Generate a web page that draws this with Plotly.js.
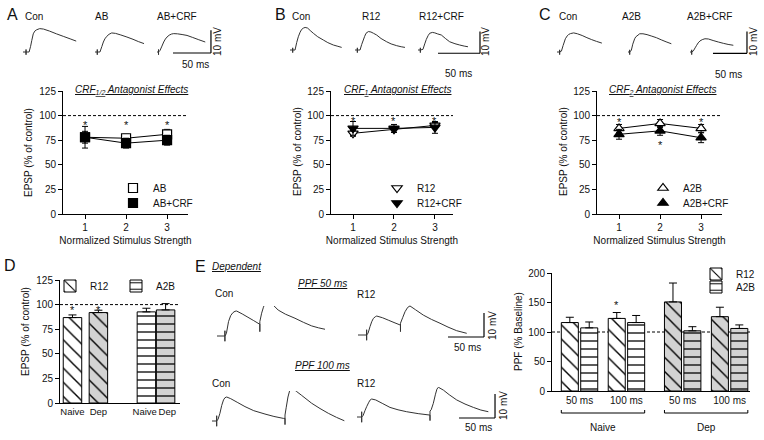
<!DOCTYPE html>
<html><head><meta charset="utf-8">
<script src="https://cdn.plot.ly/plotly-3.0.1.min.js"></script>
<style>html,body{margin:0;padding:0;background:#fff}#chart{width:764px;height:440px}</style>
</head><body><div id="chart"></div>
<script>
// ---------------- DATA ----------------
const stimStrength = [1, 2, 3];
// Panel A: CRF1/2 antagonist
const epspAB = [78, 77, 81];
const semAB = [11, 4, 5];
const epspABCRF = [78, 72, 75];
const semABCRF = [6, 5, 5];
const sigA_x = [1, 2, 3];
const sigA_y = [93, 93, 93];
// Panel B: CRF1 antagonist
const epspR12 = [82, 86, 90];
const semR12 = [3, 3, 3];
const epspR12CRF = [87, 87, 88];
const semR12CRF = [7, 4, 6];
const sigB_x = [1, 2, 3];
const sigB_y = [98, 98, 98];
// Panel C: CRF2 antagonist
const epspA2B = [87, 92, 87];
const semA2B = [4, 4, 4];
const epspA2BCRF = [81, 84.5, 77.5];
const semA2BCRF = [5, 4.5, 5];
const sigC_x = [1, 2, 3];
const sigC_y = [97, 73.5, 97];
// Panel D
const groupsD = ['Naive', 'Dep'];
const epspD_R12 = [86.8, 91.9];
const semD_R12 = [2.7, 2.4];
const epspD_A2B = [92.6, 94.6];
const semD_A2B = [3.7, 6.4];
const sigD_y = [98, 98];
// Panel E (PPF)
const ppfIntervals = ['50 ms', '100 ms', '50 ms', '100 ms'];
const ppfGroupOf = ['Naive', 'Naive', 'Dep', 'Dep'];
const ppfGroups = ['Naive', 'Dep'];
const ppfR12 = [116, 123, 151, 126];
const semPpfR12 = [9, 10, 32, 16];
const ppfA2B = [107, 116, 102, 106];
const semPpfA2B = [10, 12, 7, 6];
const sigE_idx = 1, sigE_y = 151;

// Waveforms (time ms, voltage mV relative to baseline)
const tA_con = [0,4,4,4,4,8,10,11.5,13.5,15.5,18,22,27,35,44,53,62,70];
const vA_con = [0,0,-1.2,1.1,0,0,2.5,5,8,9.2,9.8,10.3,10.1,9.2,8,6.9,5.8,4.8];
const tA_ab = [0,3,3,3,3,6.5,9,11,13,15.5,18.5,22,27,34,42,50,57,64.5];
const vA_ab = [0,0,-1.2,1.1,0,0,2.4,4.4,5.8,6.9,7.8,8.4,8.2,7.5,6.6,5.6,4.6,3.7];
const tA_abcrf = [0,2,2,2,2,4,6.5,8.8,11,13.2,16,19,22,27,33,39.5,47,55,63.5];
const vA_abcrf = [0,0,-1.2,1.1,0,0.7,2.6,4.4,5.7,6.6,7.4,7.9,8.1,8,7.7,7.3,6.4,5.4,4.4];

const tB_con = [0,3.2,3.2,3.2,3.2,6,8,9.9,12,13.9,16,18,21,24,27.8,33,39.7,45,51.6,57,61.5];
const vB_con = [0,0,-1.2,1,0,0,3.5,6.1,8.2,9.5,10.1,10.4,10.1,9,7.7,6.1,4.6,3.4,2.3,1.7,1.2];
const tB_r12 = [0,2.8,2.8,2.8,2.8,6,8,9.9,11.5,13.1,15.9,19,22,25.8,31,37.7,43,49.6,55,59.5];
const vB_r12 = [0,0,-1.2,1,0,0,2.6,4.6,6.3,7.7,8.5,8.3,7.7,6.9,5.3,3.8,2.8,2,1.5,1.2];
const tB_r12crf = [0,2.8,2.8,2.8,2.8,5.9,8,9.9,12,13.9,17.1,20,23.5,27.8,33,37.7,44,49.6,55,59.5];
const vB_r12crf = [0,0,-1.2,1,0,0.3,2.8,4.9,6.6,7.7,8.1,7.9,7.4,6.9,5.2,3.8,2.9,2.3,1.8,1.5];

const tC_con = [0,3.9,3.9,3.9,3.9,6.5,9,12.3,15,17.2,20,24.5,30,37,44,51,58,66];
const vC_con = [0,0,-1.2,1,0,0.4,3,6.1,7.4,8.1,8.5,8.8,8.4,7.6,6.6,5.7,4.9,4.1];
const tC_a2b = [0,2.5,2.5,2.5,2.5,4.9,7,9.8,11.5,13.2,17.2,22,28,35,41.7,49,56,63.7];
const vC_a2b = [0,0,-1.2,1,0,0.8,3.6,6.1,7,7.4,8.4,8.4,8,7.3,6.6,5.6,4.7,3.8];
const tC_a2bcrf = [0,2.5,2.5,2.5,2.5,4.9,7.5,9.8,12,14.7,18,22,27,34,41.7,49,56,63.7];
const vC_a2bcrf = [0,0,-1.2,1,0,0.5,1.9,3.1,4.2,5.1,5.7,6.1,6,5.3,4.6,4,3.5,3.1];

const tE_con50 = [0,11,11,11,11,13,16,19,22,25,27.3,35,43,51,58.8,59.5,59.5,59.5,62,64.5,66.7,69,71.3,78,85,95,108.3,120,131.5,141,150];
const vE_con50 = [0,0,-2.2,2.2,0,1,6,8.5,9.7,10.3,10.4,9.2,7.8,6.4,5,5,1.8,6,9.5,12,13.6,14.6,15,12.9,10.8,9.1,7.4,5.7,4.2,3.4,2.8];
const tE_r12_50 = [0,12,12,12,12,14,16.7,19,21.3,24,26,34,42,50,58.3,59,59,59,62,65.3,69,72.2,80,90.7,102,113.9,125,137,151];
const vE_r12_50 = [0,0,-2.2,2.2,0,0.8,3.5,5.5,6.9,7.6,7.9,7.2,6.2,5.2,4.2,4.2,1.4,4.9,7.2,9.7,11.5,12.1,10.5,8.3,6.5,4.9,3.3,1.8,0.7];
const tE_con100 = [0,6.5,6.5,6.5,6.5,8.5,11,13.5,16,18,20.4,26,35,45.8,58,73.6,86,99,101.4,101.4,101.4,103,105.5,108,110.7,117,124,138.4,150,161.6,173,183.8];
const vE_con100 = [0,0,-2.2,2.2,0,0.8,3.2,6.5,8.8,9.7,10,9.3,7.8,6,4.3,2.9,1.9,1.1,1.1,-1.5,2.5,5.5,10,12.8,13.9,12.4,10.8,7.4,5.2,3.2,1.5,0.1];
const tE_r12_100 = [0,6.5,6.5,6.5,6.5,8.5,11,13.4,16,18,20.4,26,35,45.8,57,69,85,101.4,101.4,101.4,101.4,103,106,109,111,113,120,128,138.5,150,161.6,172,182.4];
const vE_r12_100 = [0,0,-2.2,2.2,0,0.6,2.6,4.3,5.9,7,7.5,7.1,5.7,4,3,2.2,1.4,0.8,0.8,-1.5,2.5,3,5.7,9.5,11.6,12.4,11.2,9.3,7.1,5.4,4,2.9,2.2];

const scaleMs = 50, scaleMv = 10;

// ---------------- LAYOUT HELPERS ----------------
const W = 764, H = 440;
const FONT = 'Liberation Sans, Arial, Helvetica, sans-serif';
const px = x => x / W, py = y => 1 - y / H;
const traces = [];
const layout = {
  width: W, height: H, margin: {l: 0, r: 0, t: 0, b: 0},
  paper_bgcolor: '#fff', plot_bgcolor: 'rgba(0,0,0,0)',
  font: {family: FONT, size: 10, color: '#111'},
  showlegend: true, annotations: [], shapes: []
};
const axBase = {showline: true, linecolor: '#000', linewidth: 1, ticks: 'outside', ticklen: 4,
  tickwidth: 1, tickcolor: '#000', showgrid: false, zeroline: false, fixedrange: true, tickangle: 0,
  tickfont: {size: 10, color: '#111'}};

function chartAxes(n, xd, yd, xr, yr, xo, yo) {
  const s = n === 1 ? '' : String(n);
  layout['xaxis' + s] = Object.assign({}, axBase, {domain: [px(xd[0]), px(xd[1])], range: xr, anchor: 'y' + s}, xo);
  layout['yaxis' + s] = Object.assign({}, axBase, {domain: [py(yd[1]), py(yd[0])], range: yr, anchor: 'x' + s}, yo);
}
function dashed100(s) {
  layout.shapes.push({type: 'line', layer: 'below', xref: 'x' + s + ' domain', x0: 0, x1: 1, yref: 'y' + s, y0: 100, y1: 100,
    line: {color: '#000', width: 1, dash: '3px,2px'}});
}
function ann(text, x, y, o) {
  layout.annotations.push(Object.assign({text, x: px(x), y: py(y), xref: 'paper', yref: 'paper', showarrow: false,
    xanchor: 'center', yanchor: 'middle', font: {size: 10}}, o || {}));
}
function star(s, x, y, shift) {
  layout.annotations.push({text: '*', x, y, xref: 'x' + s, yref: 'y' + s, showarrow: false, yshift: shift,
    xanchor: 'center', yanchor: 'middle', font: {size: 11}});
}
function lg(symX, rowY) {
  return {x: px(symX - 20), y: py(rowY), xanchor: 'left', yanchor: 'middle', bgcolor: 'rgba(0,0,0,0)', borderwidth: 0,
    font: {size: 10, family: FONT, color: '#111'}, itemclick: false, itemdoubleclick: false};
}
let waveN = 6;
function wave(t, v, x0, yb, msPerPx, mvPerPx, wPx) {
  const n = waveN++;
  layout['xaxis' + n] = {domain: [px(x0), px(x0 + wPx)], range: [0, wPx * msPerPx], visible: false, fixedrange: true, anchor: 'y' + n};
  layout['yaxis' + n] = {domain: [py(yb + 14), py(yb - 30)], range: [-14 * mvPerPx, 30 * mvPerPx], visible: false, fixedrange: true, anchor: 'x' + n};
  traces.push({x: t, y: v, xaxis: 'x' + n, yaxis: 'y' + n, mode: 'lines', line: {color: '#333', width: 1, simplify: false},
    hoverinfo: 'skip', showlegend: false});
  return n;
}
function scaleBar(n, t0, v0) {
  const ref = {xref: 'x' + n, yref: 'y' + n};
  layout.shapes.push(Object.assign({type: 'line', x0: t0, x1: t0 + scaleMs, y0: v0, y1: v0, line: {color: '#000', width: 1.2}}, ref));
  layout.shapes.push(Object.assign({type: 'line', x0: t0 + scaleMs, x1: t0 + scaleMs, y0: v0, y1: v0 + scaleMv, line: {color: '#000', width: 1.2}}, ref));
}

// ---------------- PANELS A-C (line charts) ----------------
const yTicks = [0, 25, 50, 75, 100, 125];
const xTitle = {text: 'Normalized Stimulus Strength', standoff: 4, font: {size: 10}};
chartAxes(1, [63, 188], [91, 214], [0.463, 3.51], [0, 125], {tickvals: stimStrength, title: xTitle}, {tickvals: yTicks});
chartAxes(2, [331, 453], [91, 214], [0.463, 3.44], [0, 125], {tickvals: stimStrength, title: xTitle}, {tickvals: yTicks});
chartAxes(3, [597, 722], [91, 214], [0.463, 3.51], [0, 125], {tickvals: stimStrength, title: xTitle}, {tickvals: yTicks});
dashed100(''); dashed100('2'); dashed100('3');

function series(s, y, err, name, symbol, fill, legendId) {
  traces.push({x: stimStrength, y, mode: 'lines', xaxis: 'x' + s, yaxis: 'y' + s, line: {color: '#000', width: 1},
    showlegend: false, hoverinfo: 'skip'});
  traces.push({x: stimStrength, y, mode: 'markers', xaxis: 'x' + s, yaxis: 'y' + s, name, legend: legendId,
    marker: {symbol, size: 9, color: fill, line: {color: '#000', width: 1.2}},
    error_y: {type: 'data', array: err, color: '#000', thickness: 1, width: 3}});
}
series('', epspAB, semAB, 'AB', 'square', '#fff', 'legend');
series('', epspABCRF, semABCRF, 'AB+CRF', 'square', '#000', 'legend2');
series('2', epspR12, semR12, 'R12', 'triangle-down', '#fff', 'legend3');
series('2', epspR12CRF, semR12CRF, 'R12+CRF', 'triangle-down', '#000', 'legend4');
series('3', epspA2B, semA2B, 'A2B', 'triangle-up', '#fff', 'legend5');
series('3', epspA2BCRF, semA2BCRF, 'A2B+CRF', 'triangle-up', '#000', 'legend6');
layout.legend = lg(133, 188); layout.legend2 = lg(133, 203);
layout.legend3 = lg(397, 188); layout.legend4 = lg(397, 203);
layout.legend5 = lg(663, 188); layout.legend6 = lg(663, 203);

sigA_x.forEach((x, i) => star('', x, sigA_y[i], -3));
sigB_x.forEach((x, i) => star('2', x, sigB_y[i], -3));
sigC_x.forEach((x, i) => star('3', x, sigC_y[i], -3));

ann('<i><u>CRF<sub>1/2</sub> Antagonist Effects</u></i>', 131, 90);
ann('<i><u>CRF<sub>1</sub> Antagonist Effects</u></i>', 397, 90);
ann('<i><u>CRF<sub>2</sub> Antagonist Effects</u></i>', 662, 90);
const rot = {textangle: -90};
ann('EPSP (% of control)', 28, 152, rot);
ann('EPSP (% of control)', 297, 152, rot);
ann('EPSP (% of control)', 563, 152, rot);

// ---------------- BAR HELPER ----------------
const GRAY = '#d3d3d3';
const groupFill = {Naive: '#fff', Dep: GRAY};
// one trace per (drug, group) so each bar keeps its own fill under a black pattern
function barGroup(s, pos, vals, errs, groupOf, name, shape, size, sol, w, legendId) {
  ['Naive', 'Dep'].forEach((g, gi) => {
    const idx = groupOf.map((gg, i) => gg === g ? i : -1).filter(i => i >= 0);
    const e = idx.map(i => errs[i]);
    traces.push({type: 'bar', x: idx.map(i => pos[i]), y: idx.map(i => vals[i]), width: w,
      xaxis: 'x' + s, yaxis: 'y' + s, name, legend: legendId, showlegend: gi === 0,
      marker: {color: groupFill[g], line: {color: '#000', width: 1},
        pattern: {shape, fgcolor: '#000', bgcolor: groupFill[g], fgopacity: 1, size, solidity: sol, fillmode: 'replace'}},
      error_y: {type: 'data', array: e, arrayminus: e.map(() => 0), symmetric: false, color: '#000', thickness: 1, width: 4}});
  });
}

// ---------------- PANEL D (bars) ----------------
const posD_R12 = [0.52, 1.6], posD_A2B = [3.6, 4.4], widthD = 0.77;
const labPosD = [0.52, 1.6, 3.53, 4.47];
chartAxes(4, [60, 180], [280, 403], [0, 5], [0, 125],
  {tickvals: labPosD, ticktext: groupsD.concat(groupsD), ticks: '', tickfont: {size: 9.5, color: '#111'}},
  {tickvals: yTicks});
ann('EPSP (% of control)', 25, 332, rot);
dashed100('4');
barGroup('4', posD_R12, epspD_R12, semD_R12, groupsD, 'R12', '\\', 10, 0.14, widthD, 'legend7');
barGroup('4', posD_A2B, epspD_A2B, semD_A2B, groupsD, 'A2B', '-', 8, 0.16, widthD, 'legend8');
layout.legend7 = lg(70, 286); layout.legend8 = lg(136, 286);
posD_R12.forEach((x, i) => star('4', x, sigD_y[i], -3));

// ---------------- PANEL E (PPF bars) ----------------
const pairE = [1.39, 3.76, 6.6, 8.97], offE = 0.49, widthE = 0.86;
const posE_R12 = pairE.map(c => c - offE), posE_A2B = pairE.map(c => c + offE);
chartAxes(5, [552, 750], [273, 391], [0, 10], [0, 200],
  {tickvals: pairE, ticktext: ppfIntervals, ticks: ''},
  {tickvals: [0, 50, 100, 150, 200]});
ann('PPF (% Baseline)', 518, 332, rot);
dashed100('5');
barGroup('5', posE_R12, ppfR12, semPpfR12, ppfGroupOf, 'R12', '\\', 10, 0.14, widthE, 'legend9');
barGroup('5', posE_A2B, ppfA2B, semPpfA2B, ppfGroupOf, 'A2B', '-', 8, 0.16, widthE, 'legend10');
layout.legend9 = lg(716, 274); layout.legend10 = lg(716, 287);
star('5', posE_R12[sigE_idx], sigE_y, -3);
// group brackets
[[0, 1], [2, 3]].forEach((g, i) => {
  const xa = posE_R12[g[0]] - widthE / 2, xb = posE_A2B[g[1]] + widthE / 2;
  layout.shapes.push({type: 'path', xref: 'x5', yref: 'paper',
    path: `M${xa},${py(410)} L${xa},${py(413)} L${xb},${py(413)} L${xb},${py(410)}`, line: {color: '#000', width: 1}});
  layout.annotations.push({text: ppfGroups[i], x: (xa + xb) / 2, y: py(427), xref: 'x5', yref: 'paper', showarrow: false,
    xanchor: 'center', yanchor: 'middle', font: {size: 10}});
});

// ---------------- WAVEFORMS ----------------
const sA = [50 / 38, 10 / 22.7], sB = [50 / 42, 10 / 21.7], sC = [50 / 34, 10 / 21.7], sE = [50 / 36, 10 / 24];
wave(tA_con, vA_con, 23, 52, sA[0], sA[1], 60);
wave(tA_ab, vA_ab, 95, 52, sA[0], sA[1], 60);
const nA = wave(tA_abcrf, vA_abcrf, 157, 52, sA[0], sA[1], 60);
scaleBar(nA, 21, -0.44);
wave(tB_con, vB_con, 290, 50, sB[0], sB[1], 64);
wave(tB_r12, vB_r12, 355, 50, sB[0], sB[1], 64);
const nB = wave(tB_r12crf, vB_r12crf, 418, 50, sB[0], sB[1], 66);
scaleBar(nB, 23.8, -1.5);
wave(tC_con, vC_con, 557, 52, sC[0], sC[1], 60);
wave(tC_a2b, vC_a2b, 628, 52, sC[0], sC[1], 60);
const nC = wave(tC_a2bcrf, vC_a2bcrf, 690, 52, sC[0], sC[1], 60);
scaleBar(nC, 33.8, -0.6);
wave(tE_con50, vE_con50, 217, 336, sE[0], sE[1], 130);
const nE1 = wave(tE_r12_50, vE_r12_50, 358, 335, sE[0], sE[1], 130);
scaleBar(nE1, 125, -0.83);
wave(tE_con100, vE_con100, 212, 421, sE[0], sE[1], 140);
const nE2 = wave(tE_r12_100, vE_r12_100, 357, 417, sE[0], sE[1], 140);
scaleBar(nE2, 141.7, -0.42);

// ---------------- TEXT LABELS ----------------
const big = {font: {size: 16}};
ann('A', 12, 15, big); ann('B', 280, 15, big); ann('C', 545, 15, big); ann('D', 10, 265, big); ann('E', 200, 266, big);
const L = {xanchor: 'left'};
ann('Con', 23, 17, L); ann('AB', 93, 17, L); ann('AB+CRF', 155, 17, L);
ann('Con', 290, 17, L); ann('R12', 360, 17, L); ann('R12+CRF', 417, 17, L);
ann('Con', 557, 17, L); ann('A2B', 620, 17, L); ann('A2B+CRF', 685, 17, L);
ann('10 mV', 217, 42, rot); ann('50 ms', 195, 64);
ann('10 mV', 485, 42, rot); ann('50 ms', 458, 73);
ann('10 mV', 753, 42, rot); ann('50 ms', 728, 74);
ann('<i><u>Dependent</u></i>', 210, 266, L);
ann('<i><u>PPF 50 ms</u></i>', 322, 283);
ann('<i><u>PPF 100 ms</u></i>', 322, 365);
ann('Con', 213, 293, L); ann('R12', 355, 294, L);
ann('Con', 210, 383, L); ann('R12', 355, 383, L);
ann('10 mV', 492, 325, rot); ann('50 ms', 467, 347);
ann('10 mV', 503, 406, rot); ann('50 ms', 478, 427);

Plotly.newPlot('chart', traces, layout, {staticPlot: true, displayModeBar: false});
</script></body></html>
